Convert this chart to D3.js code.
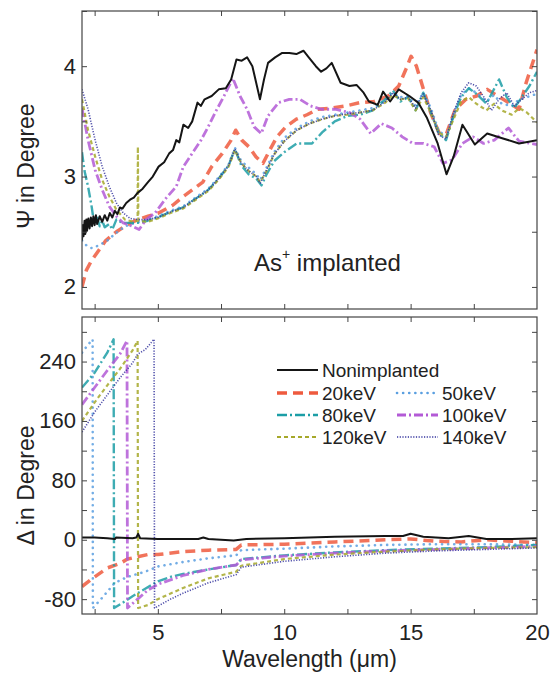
<!DOCTYPE html>
<html><head><meta charset="utf-8">
<script src="https://cdn.jsdelivr.net/npm/d3@7"></script>
<style>body{margin:0;background:#fff}svg{display:block}text{font-family:"Liberation Sans",Arial,sans-serif;fill:#222}</style>
</head><body>
<svg id="c" width="553" height="677"></svg>
<script>
// ---------- DATA ----------
const seriesNames = ["Nonimplanted","20keV","50keV","80keV","100keV","120keV","140keV"];
const xTicksLabeled = [5,10,15,20];
const psiTickLabels = [2,3,4];
const deltaTickLabels = [-80,0,80,160,240];

// Psi (degree) vs wavelength (um)
const psiNonimplanted = [[2.0,2.42],[2.03,2.56],[2.06,2.46],[2.1,2.60],[2.13,2.48],[2.17,2.61],[2.2,2.51],[2.25,2.62],[2.3,2.53],[2.35,2.63],[2.4,2.55],[2.45,2.64],[2.5,2.56],[2.55,2.65],[2.6,2.57],[2.7,2.64],[2.8,2.59],[2.9,2.65],[3.0,2.60],[3.1,2.67],[3.2,2.63],[3.3,2.69],[3.4,2.66],[3.5,2.72],[3.6,2.71],[3.75,2.76],[3.9,2.79],[4.05,2.81],[4.19,2.85],[4.4,2.89],[4.61,2.95],[4.8,3.00],[5.03,3.09],[5.25,3.13],[5.45,3.21],[5.6,3.24],[5.73,3.33],[5.85,3.31],[6.01,3.47],[6.2,3.44],[6.36,3.50],[6.57,3.67],[6.7,3.64],[6.85,3.70],[7.13,3.73],[7.41,3.79],[7.69,3.80],[7.9,3.88],[8.11,4.06],[8.32,4.05],[8.53,4.08],[8.74,4.00],[8.92,3.82],[9.04,3.70],[9.2,3.88],[9.36,4.03],[9.64,4.08],[9.92,4.12],[10.2,4.12],[10.48,4.11],[10.76,4.14],[10.97,4.08],[11.25,4.00],[11.46,3.95],[11.67,3.98],[11.88,4.03],[12.23,3.85],[12.58,3.82],[12.86,3.83],[13.14,3.76],[13.35,3.68],[13.7,3.65],[13.91,3.77],[14.19,3.68],[14.53,3.79],[14.95,3.73],[15.3,3.67],[15.65,3.53],[16.07,3.30],[16.42,3.02],[16.7,3.18],[17.05,3.47],[17.54,3.29],[18.03,3.39],[18.59,3.35],[19.29,3.30],[20.0,3.33]];
const psi20keV = [[2.0,2.00],[2.17,2.15],[2.38,2.24],[2.66,2.33],[2.94,2.42],[3.36,2.50],[3.77,2.56],[4.19,2.61],[4.61,2.64],[5.03,2.67],[5.59,2.74],[6.01,2.82],[6.43,2.89],[6.78,2.95],[7.13,3.09],[7.55,3.21],[7.9,3.33],[8.08,3.42],[8.32,3.33],[8.6,3.27],[8.88,3.18],[9.16,3.12],[9.43,3.24],[9.71,3.36],[10.06,3.45],[10.48,3.52],[10.9,3.56],[11.32,3.61],[11.88,3.62],[12.44,3.64],[13.0,3.67],[13.56,3.68],[14.12,3.73],[14.53,3.82],[14.81,3.97],[15.02,4.09],[15.23,4.00],[15.51,3.79],[15.79,3.58],[16.14,3.39],[16.42,3.39],[16.77,3.61],[17.19,3.70],[17.61,3.73],[18.03,3.79],[18.45,3.73],[18.87,3.67],[19.29,3.61],[19.57,3.85],[20.0,4.15]];
const psi50keV = [[2.0,2.42],[2.2,2.37],[2.4,2.35],[2.7,2.38],[3.0,2.42],[3.3,2.48],[3.7,2.55],[4.1,2.58],[4.6,2.61],[5.0,2.64],[5.5,2.69],[6.0,2.73],[6.5,2.81],[7.0,2.89],[7.4,2.99],[7.8,3.11],[8.05,3.26],[8.3,3.14],[8.6,3.08],[8.9,3.02],[9.05,2.97],[9.3,3.08],[9.6,3.22],[10.0,3.35],[10.5,3.44],[11.0,3.50],[11.5,3.54],[12.0,3.56],[12.5,3.58],[13.0,3.60],[13.5,3.62],[14.0,3.69],[14.3,3.76],[14.6,3.72],[14.9,3.73],[15.2,3.64],[15.5,3.76],[15.8,3.62],[16.1,3.42],[16.4,3.36],[16.7,3.56],[17.0,3.74],[17.3,3.80],[17.6,3.76],[18.0,3.68],[18.3,3.74],[18.6,3.66],[19.0,3.64],[19.3,3.70],[19.6,3.72],[20.0,3.75]];
const psi80keV = [[2.0,3.22],[2.1,3.05],[2.24,2.91],[2.38,2.73],[2.45,2.62],[2.59,2.64],[2.7,2.55],[2.8,2.60],[2.9,2.54],[3.08,2.57],[3.2,2.52],[3.36,2.61],[3.6,2.58],[3.9,2.58],[4.2,2.58],[4.6,2.60],[5.0,2.63],[5.5,2.68],[6.0,2.72],[6.5,2.80],[7.0,2.88],[7.4,2.98],[7.8,3.10],[8.05,3.25],[8.3,3.10],[8.6,3.02],[8.9,2.98],[9.1,2.92],[9.3,3.02],[9.6,3.14],[10.0,3.22],[10.5,3.30],[11.1,3.30],[11.5,3.40],[12.0,3.50],[12.5,3.55],[13.0,3.56],[13.5,3.60],[14.0,3.70],[14.3,3.78],[14.6,3.68],[14.9,3.72],[15.2,3.60],[15.5,3.76],[15.8,3.58],[16.1,3.40],[16.4,3.33],[16.7,3.55],[17.0,3.72],[17.3,3.80],[17.6,3.75],[18.0,3.66],[18.5,3.88],[18.8,3.72],[19.1,3.62],[19.4,3.72],[19.7,3.82],[20.0,3.95]];
const psi100keV = [[2.0,3.62],[2.24,3.33],[2.52,3.06],[2.8,2.88],[3.08,2.73],[3.36,2.64],[3.63,2.58],[3.98,2.55],[4.26,2.52],[4.54,2.61],[4.89,2.67],[5.31,2.80],[5.73,2.91],[6.01,3.09],[6.36,3.21],[6.71,3.33],[6.99,3.45],[7.27,3.58],[7.62,3.73],[7.97,3.89],[8.25,3.73],[8.53,3.61],[8.81,3.45],[9.09,3.39],[9.36,3.55],[9.78,3.67],[10.2,3.70],[10.62,3.70],[11.04,3.64],[11.46,3.61],[12.02,3.61],[12.58,3.58],[13.0,3.52],[13.42,3.39],[13.84,3.48],[14.26,3.44],[14.67,3.36],[15.09,3.30],[15.51,3.30],[15.93,3.27],[16.28,3.12],[16.63,3.15],[17.05,3.30],[17.47,3.36],[17.89,3.30],[18.31,3.33],[18.87,3.44],[19.29,3.32],[20.0,3.29]];
const psi120keV = [[2.0,3.70],[2.24,3.42],[2.52,3.18],[2.8,2.97],[3.08,2.82],[3.36,2.70],[3.7,2.61],[4.05,2.59],[4.2,2.60],[4.21,3.27],[4.23,2.60],[4.6,2.59],[5.0,2.62],[5.5,2.67],[6.0,2.71],[6.5,2.79],[7.0,2.87],[7.4,2.97],[7.8,3.09],[8.05,3.24],[8.3,3.12],[8.6,3.05],[8.9,3.00],[9.05,2.95],[9.3,3.05],[9.6,3.20],[10.0,3.32],[10.5,3.42],[11.0,3.48],[11.5,3.52],[12.0,3.55],[12.5,3.56],[13.0,3.58],[13.5,3.60],[14.0,3.67],[14.3,3.74],[14.6,3.70],[14.9,3.71],[15.2,3.60],[15.5,3.72],[15.8,3.58],[16.1,3.40],[16.4,3.36],[16.7,3.52],[17.0,3.68],[17.3,3.72],[17.6,3.66],[18.0,3.60],[18.3,3.66],[18.6,3.60],[19.0,3.56],[19.3,3.62],[19.6,3.58],[20.0,3.49]];
const psi140keV = [[2.0,3.79],[2.24,3.61],[2.52,3.33],[2.8,3.09],[3.08,2.91],[3.36,2.76],[3.63,2.67],[3.91,2.62],[4.26,2.61],[4.6,2.61],[5.0,2.63],[5.5,2.68],[6.0,2.72],[6.5,2.80],[7.0,2.88],[7.4,2.98],[7.8,3.10],[8.05,3.25],[8.3,3.12],[8.6,3.05],[8.9,3.00],[9.05,2.94],[9.3,3.06],[9.6,3.20],[10.0,3.32],[10.5,3.42],[11.0,3.48],[11.5,3.52],[12.0,3.55],[12.5,3.57],[13.0,3.58],[13.5,3.60],[14.0,3.68],[14.3,3.76],[14.6,3.70],[14.9,3.72],[15.2,3.62],[15.5,3.75],[15.8,3.60],[16.1,3.38],[16.4,3.34],[16.7,3.58],[17.0,3.76],[17.3,3.85],[17.6,3.82],[17.9,3.72],[18.2,3.60],[18.5,3.70],[18.8,3.76],[19.1,3.64],[19.4,3.70],[19.7,3.76],[20.0,3.78]];

// Delta (degree) vs wavelength (um)
const deltaNonimplanted = [[2.0,3],[2.5,3],[3.0,2],[3.3,1],[3.35,3],[4.0,2],[4.15,3],[4.22,8],[4.3,2],[5.0,1],[6.0,1],[6.6,1],[6.8,3],[7.0,1],[7.5,0],[8.0,-1],[8.5,1],[10.0,2],[12.0,4],[14.0,5],[14.7,5],[15.0,8],[15.5,4],[16.5,2],[17.3,5],[18.0,1],[19.0,1],[20.0,2]];
const delta20keV = [[2.0,-63],[2.5,-50],[3.0,-38],[3.5,-32],[3.8,-26],[4.2,-23],[4.6,-20],[5.0,-20],[6.0,-16],[7.0,-14],[8.1,-13],[8.3,-7],[10.0,-6],[12.0,-3],[14.0,0],[15.0,1],[16.0,-2],[17.0,-3],[18.0,0],[19.0,-2],[20.0,-4]];
const delta50keV = [[2.0,252],[2.2,261],[2.42,270],[2.43,-92],[2.8,-78],[3.3,-58],[3.8,-50],[4.5,-43],[5.0,-36],[6.0,-30],[7.0,-25],[8.1,-21],[8.3,-14],[10.0,-12],[12.0,-9],[14.0,-7],[16.0,-6],[18.0,-6],[20.0,-7]];
const delta80keV = [[2.0,205],[2.5,225],[3.0,252],[3.25,270],[3.27,-92],[3.6,-85],[4.0,-76],[4.5,-66],[5.0,-56],[5.5,-50],[6.0,-46],[7.0,-40],[8.1,-34],[8.3,-26],[9.0,-24],[10.0,-21],[12.0,-17],[14.0,-14],[16.0,-12],[18.0,-10],[20.0,-7]];
const delta100keV = [[2.0,182],[2.5,205],[3.0,228],[3.5,250],[3.78,268],[3.8,-92],[4.2,-80],[4.6,-68],[5.0,-60],[6.0,-48],[7.0,-40],[8.1,-34],[8.3,-27],[10.0,-22],[12.0,-18],[14.0,-15],[16.0,-13],[18.0,-11],[20.0,-9]];
const delta120keV = [[2.0,160],[2.5,185],[3.0,208],[3.5,230],[4.0,255],[4.2,268],[4.22,-92],[4.6,-88],[5.0,-80],[6.0,-65],[7.0,-52],[8.1,-43],[8.3,-35],[10.0,-26],[12.0,-20],[14.0,-16],[16.0,-13],[18.0,-11],[20.0,-10]];
const delta140keV = [[2.0,145],[2.5,172],[3.0,195],[3.5,218],[4.0,238],[4.2,250],[4.5,256],[4.85,270],[4.87,-92],[5.5,-80],[6.0,-72],[7.0,-58],[8.1,-47],[8.3,-37],[10.0,-29],[12.0,-23],[14.0,-18],[16.0,-15],[18.0,-13],[20.0,-11]];

// ---------- STYLE ----------
const styles = {
  "Nonimplanted":{color:"#151515",width:2,dash:null,cap:"butt"},
  "20keV":{color:"#ee5a3e",width:3.5,dash:"10,6",cap:"butt"},
  "50keV":{color:"#5a9fe0",width:2.6,dash:"0.1,6",cap:"round"},
  "80keV":{color:"#1c9ea6",width:2.4,dash:"10,3,2,3",cap:"butt"},
  "100keV":{color:"#b35ad6",width:2.8,dash:"9,3,2,3",cap:"butt"},
  "120keV":{color:"#a6a82a",width:2.2,dash:"4,3",cap:"butt"},
  "140keV":{color:"#34349e",width:1.6,dash:"1.2,1.5",cap:"butt"}
};
const psiData = [psiNonimplanted,psi20keV,psi50keV,psi80keV,psi100keV,psi120keV,psi140keV];
const deltaData = [deltaNonimplanted,delta20keV,delta50keV,delta80keV,delta100keV,delta120keV,delta140keV];

const svg = d3.select("#c");
const L=82, R=537;
const P1={top:11,bottom:309}, P2={top:317,bottom:614};
const x = d3.scaleLinear().domain([2,20]).range([L,R]);
const yPsi = d3.scaleLinear().domain([1.8,4.5]).range([P1.bottom,P1.top]);
const yDel = d3.scaleLinear().domain([-100,300]).range([P2.bottom,P2.top]);

const defs = svg.append("defs");
[["clip1",P1],["clip2",P2]].forEach(([id,p])=>{
  defs.append("clipPath").attr("id",id).append("rect").attr("x",L).attr("y",p.top).attr("width",R-L).attr("height",p.bottom-p.top);
});

function panel(p, y, yTicks, yLabels, data, clip, showX){
  const g = svg.append("g");
  const lines = g.append("g").attr("clip-path",`url(#${clip})`);
  const order = [1,2,3,4,5,6,0];
  order.forEach(i=>{
    const s = styles[seriesNames[i]];
    const line = d3.line().x(d=>x(d[0])).y(d=>y(d[1]));
    lines.append("path").datum(data[i]).attr("d",line).attr("fill","none")
      .attr("stroke",s.color).attr("stroke-width",s.width)
      .attr("stroke-dasharray",s.dash).attr("stroke-linecap",s.cap)
      .attr("stroke-opacity",i===0?1:0.85)
      .attr("stroke-linejoin","round");
  });
  const tk=5;
  const xt = d3.range(2.5,20,2.5);
  g.append("g").attr("transform",`translate(0,${p.bottom})`)
    .call(d3.axisBottom(x).tickValues(xt).tickSizeInner(-tk).tickSizeOuter(0).tickFormat(""))
    .call(a=>a.select(".domain").remove());
  g.append("g").attr("transform",`translate(0,${p.top})`)
    .call(d3.axisTop(x).tickValues(xt).tickSizeInner(-tk).tickSizeOuter(0).tickFormat(""))
    .call(a=>a.select(".domain").remove());
  g.append("g").attr("transform",`translate(${L},0)`)
    .call(d3.axisLeft(y).tickValues(yTicks).tickSizeInner(-tk).tickSizeOuter(0)
      .tickFormat(d=>yLabels.includes(d)?d:""))
    .call(a=>a.select(".domain").remove())
    .call(a=>a.selectAll("text").attr("x",-6).style("font-size","22px").style("font-family","Liberation Sans, Arial"));
  g.append("g").attr("transform",`translate(${R},0)`)
    .call(d3.axisRight(y).tickValues(yTicks).tickSizeInner(-tk).tickSizeOuter(0).tickFormat(""))
    .call(a=>a.select(".domain").remove());
  if(showX){
    g.append("g").attr("transform",`translate(0,${p.bottom})`)
      .call(d3.axisBottom(x).tickValues(xTicksLabeled).tickSize(0))
      .call(a=>a.select(".domain").remove())
      .call(a=>a.selectAll("text").attr("y",10).style("font-size","22px").style("font-family","Liberation Sans, Arial"));
  }
  g.selectAll(".tick line").attr("stroke","#444");
  g.selectAll(".tick text").attr("fill","#222");
  g.append("rect").attr("x",L).attr("y",p.top).attr("width",R-L).attr("height",p.bottom-p.top)
    .attr("fill","none").attr("stroke","#444").attr("stroke-width",1.2);
}

panel(P1, yPsi, d3.range(2,4.51,0.5), psiTickLabels, psiData, "clip1", false);
panel(P2, yDel, d3.range(-80,281,40), deltaTickLabels, deltaData, "clip2", true);

// axis titles
svg.append("text").attr("transform",`translate(34,${(P1.top+P1.bottom)/2+6}) rotate(-90)`)
  .attr("text-anchor","middle").style("font-size","23px").text("Ψ in Degree");
svg.append("text").attr("transform",`translate(34,${(P2.top+P2.bottom)/2+20}) rotate(-90)`)
  .attr("text-anchor","middle").style("font-size","23px").text("Δ in Degree");
svg.append("text").attr("x",(L+R)/2).attr("y",667).attr("text-anchor","middle")
  .style("font-size","23px").text("Wavelength (μm)");

// annotation
const ann = svg.append("text").attr("x",254).attr("y",271).style("font-size","24px");
ann.append("tspan").text("As");
ann.append("tspan").attr("dy",-12).style("font-size","14px").text("+");
ann.append("tspan").attr("dy",12).text(" implanted");

// legend
const legPos = [
  {n:"Nonimplanted",x:277,y:370},
  {n:"20keV",x:277,y:393},{n:"50keV",x:397,y:393},
  {n:"80keV",x:277,y:415},{n:"100keV",x:397,y:415},
  {n:"120keV",x:277,y:437},{n:"140keV",x:397,y:437}
];
const lg = svg.append("g");
legPos.forEach(d=>{
  const s = styles[d.n];
  lg.append("line").attr("x1",d.x).attr("x2",d.x+41).attr("y1",d.y).attr("y2",d.y)
    .attr("stroke",s.color).attr("stroke-width",s.width).attr("stroke-dasharray",s.dash)
    .attr("stroke-linecap",s.cap);
  lg.append("text").attr("x",d.x+45).attr("y",d.y+7).style("font-size","19px").text(d.n);
});
</script>
</body></html>
